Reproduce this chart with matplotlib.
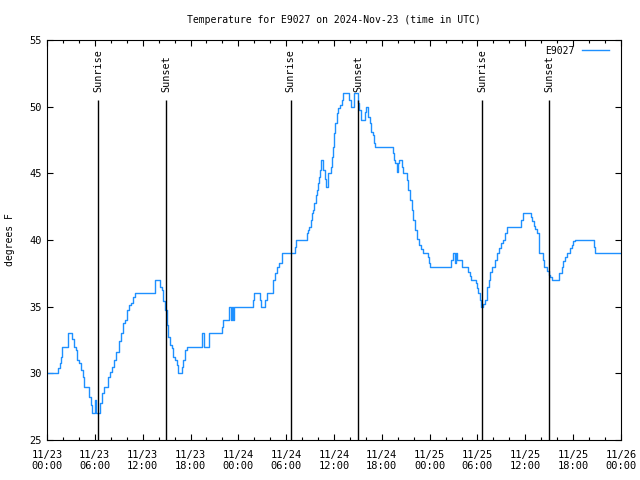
import matplotlib
matplotlib.use('Agg')
import matplotlib.pyplot as plt
from matplotlib.ticker import MultipleLocator

# hours since 2024-11-23 00:00 UTC, temperature (F) from that moment on
hours = [0.0, 1.42, 1.6, 1.71, 1.92, 2.63, 3.18, 3.43, 3.64, 3.80, 4.05, 4.30,
         4.47, 4.60, 5.31, 5.48, 5.69, 6.0, 6.2, 6.69, 6.94, 7.19, 7.69, 7.90,
         8.15, 8.40, 8.7, 8.99, 9.25, 9.53, 9.8, 10.08, 10.3, 10.5, 10.75, 11.0,
         13.6, 14.2, 14.38, 14.59, 14.80, 15.01, 15.22, 15.43, 15.64, 15.85, 16.06,
         16.27, 16.48, 16.98, 17.1, 17.31, 17.52, 19.48, 19.7, 20.3, 21.91, 22.04,
         22.87, 23.04, 23.17, 23.29, 23.46, 25.8, 25.97, 26.72, 26.9, 27.35, 27.56,
         28.3, 28.6, 28.89, 29.14, 29.44,
         31.1, 31.23, 32.58, 32.7, 32.9, 33.08, 33.2, 33.4, 33.53, 33.7, 33.83,
         33.95, 34.12, 34.24, 34.41, 34.6, 34.87, 35.0, 35.2, 35.58, 35.7, 35.83,
         36.0, 36.16, 36.33, 36.54, 36.75, 36.96, 37.16, 37.92, 38.09, 38.51, 39.05,
         39.17, 39.38, 39.89, 40.01, 40.3, 40.51, 40.64, 40.93, 41.0, 41.14,
         43.44, 43.53, 43.69, 43.86, 44.03, 44.2, 44.57, 44.70, 45.12, 45.33, 45.53,
         45.74, 45.95, 46.16, 46.37, 46.71, 46.87, 47.21, 47.75, 47.87, 48.04, 50.68,
         50.89, 51.14, 51.3, 51.47, 52.06, 52.85, 53.06, 53.23, 53.77, 53.9, 54.11,
         54.32, 54.44, 54.73, 54.94, 55.15, 55.24, 55.44, 55.57, 55.78, 56.2, 56.49,
         56.74, 56.95, 57.16, 57.45, 57.66, 59.46, 59.75, 60.71, 60.88, 61.09, 61.25,
         61.5, 61.72, 62.18, 62.34, 62.76, 62.93, 63.1, 63.31, 64.23, 64.56, 64.77,
         64.98, 65.19, 65.6, 65.81, 66.02, 66.27, 68.61, 68.78, 71.88]
temps = [30.0, 30.4, 30.8, 31.25, 32.0, 33.0, 32.6, 32.0, 31.75, 31.0, 30.8, 30.25,
         29.75, 29.0, 28.25, 27.6, 27.0, 28.0, 27.0, 27.75, 28.5, 29.0, 29.75, 30.1,
         30.5, 31.0, 31.6, 32.4, 33.0, 33.75, 34.0, 34.75, 35.1, 35.3, 35.75, 36.0,
         37.0, 36.5, 36.25, 35.4, 34.75, 33.6, 32.75, 32.1, 31.9, 31.25, 31.0,
         30.6, 30.0, 30.5, 31.0, 31.75, 32.0, 33.0, 32.0, 33.0, 33.5, 34.0,
         35.0, 34.0, 35.0, 34.0, 35.0, 35.5, 36.0, 35.5, 35.0, 35.5, 36.0,
         37.0, 37.5, 38.0, 38.25, 39.0,
         39.5, 40.0, 40.5, 40.75, 41.0, 41.5, 42.0, 42.25, 42.75, 43.4, 43.75,
         44.25, 44.75, 45.25, 46.0, 45.25, 44.6, 44.0, 45.0, 45.5, 46.25, 47.0,
         48.0, 48.75, 49.5, 49.9, 50.1, 50.5, 51.0, 50.5, 50.0, 51.0, 50.25,
         49.75, 49.0, 49.6, 50.0, 49.25, 48.75, 48.1, 47.9, 47.25, 47.0,
         46.5, 46.0, 45.75, 45.1, 45.75, 46.0, 45.5, 45.0, 44.5, 43.75, 43.0,
         42.25, 41.5, 40.75, 40.1, 39.6, 39.3, 39.0, 38.75, 38.3, 38.0, 38.5,
         39.0, 38.3, 39.0, 38.5, 38.0, 37.6, 37.3, 37.0, 36.75, 36.4, 36.0,
         35.5, 35.0, 35.2, 35.5, 36.0, 36.5, 37.0, 37.6, 38.0, 38.5, 39.0,
         39.4, 39.75, 40.0, 40.5, 41.0, 41.5, 42.0, 41.7, 41.4, 41.05, 40.8,
         40.5, 39.0, 38.5, 38.0, 37.7, 37.4, 37.2, 37.0, 37.5, 38.0, 38.4,
         38.75, 39.0, 39.4, 39.6, 39.9, 40.0, 39.5, 39.0, 39.0]
assert len(hours) == len(temps)

sun_hours = [6.43, 14.97, 30.55, 39.05, 54.6, 63.0]
sun_names = ['Sunrise', 'Sunset', 'Sunrise', 'Sunset', 'Sunrise', 'Sunset']

tick_hours = [0, 6, 12, 18, 24, 30, 36, 42, 48, 54, 60, 66, 72]
tick_labels = ['11/23\n00:00', '11/23\n06:00', '11/23\n12:00', '11/23\n18:00',
               '11/24\n00:00', '11/24\n06:00', '11/24\n12:00', '11/24\n18:00',
               '11/25\n00:00', '11/25\n06:00', '11/25\n12:00', '11/25\n18:00',
               '11/26\n00:00']

plt.rcParams['font.family'] = 'DejaVu Sans Mono'
plt.rcParams['font.size'] = 7

fig = plt.figure(figsize=(6.4, 4.8), dpi=100)
ax = fig.add_axes([47 / 640, 40 / 480, 574 / 640, 400 / 480])

ax.plot(hours, temps, drawstyle='steps-post', color='#1e90ff', lw=1.0, label='E9027')
ax.vlines(sun_hours, 25, 50.5, color='black', lw=1.0)
for h, name in zip(sun_hours, sun_names):
    ax.text(h, 51.1, name, rotation=90, ha='center', va='bottom', fontsize=7.3)

ax.set_xlim(0, 72)
ax.set_ylim(25, 55)
ax.set_xticks(tick_hours)
ax.set_xticklabels(tick_labels, linespacing=1.15, fontsize=7.5)
ax.xaxis.set_minor_locator(MultipleLocator(2))
ax.set_yticks(range(25, 56, 5))
ax.tick_params(axis='y', labelsize=7.5)
ax.tick_params(which='major', direction='in', top=True, right=True,
               length=4.5, width=0.8)
ax.tick_params(axis='x', which='major', pad=7)
ax.tick_params(axis='y', which='major', pad=4)
ax.tick_params(which='minor', direction='in', top=True, length=2.2, width=0.8)
for s in ax.spines.values():
    s.set_linewidth(0.8)

fig.text(334 / 640, 1 - 20 / 480, 'Temperature for E9027 on 2024-Nov-23 (time in UTC)',
         ha='center', va='center')
fig.text(10 / 640, 0.5, 'degrees F', rotation=90, ha='center', va='center')

ax.legend(loc='upper right', bbox_to_anchor=(0.986, 0.995), frameon=False,
          markerfirst=False, handlelength=2.8, borderaxespad=0, handletextpad=0.8)

fig.savefig('out.png', dpi=100)
